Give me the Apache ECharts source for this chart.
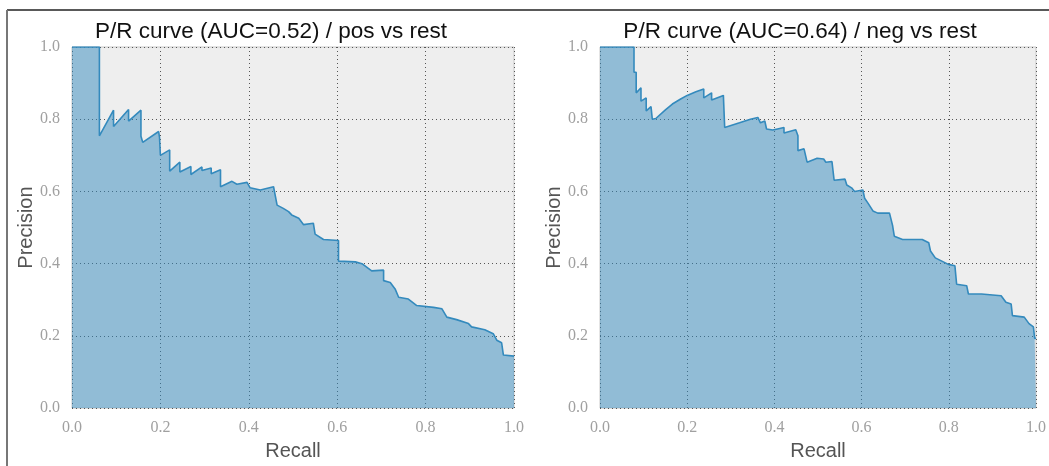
<!DOCTYPE html>
<html>
<head>
<meta charset="utf-8">
<script src="https://cdn.jsdelivr.net/npm/echarts@6/dist/echarts.min.js"></script>
<style>
    html, body { margin: 0; padding: 0; background: #fff; }
    #chart { width: 1049px; height: 466px; }
</style>
</head>
<body>
<div id="chart"></div>
<script>
// values
const posRecall = [0, 0.062, 0.062, 0.094, 0.094, 0.128, 0.128, 0.156, 0.156, 0.16, 0.196, 0.198, 0.2, 0.221, 0.221,
    0.244, 0.244, 0.269, 0.269, 0.294, 0.294, 0.315, 0.315, 0.336, 0.336, 0.362, 0.373, 0.396, 0.403, 0.426,
    0.456, 0.464, 0.478, 0.49, 0.497, 0.513, 0.524, 0.546, 0.55, 0.569, 0.603, 0.603, 0.641, 0.656, 0.678,
    0.705, 0.705, 0.72, 0.731, 0.739, 0.761, 0.78, 0.818, 0.837, 0.848, 0.87, 0.897, 0.904, 0.934, 0.953,
    0.961, 0.972, 0.976, 1.0];
const posPrecision = [1.0, 1.0, 0.754, 0.825, 0.78, 0.827, 0.795, 0.825, 0.753, 0.736, 0.766, 0.75, 0.70, 0.715, 0.656,
    0.681, 0.654, 0.669, 0.647, 0.668, 0.658, 0.665, 0.649, 0.66, 0.613, 0.628, 0.62, 0.625, 0.61, 0.604,
    0.613, 0.562, 0.553, 0.544, 0.535, 0.526, 0.508, 0.512, 0.482, 0.467, 0.464, 0.407, 0.405, 0.40, 0.38,
    0.382, 0.353, 0.348, 0.33, 0.307, 0.302, 0.284, 0.279, 0.275, 0.252, 0.245, 0.234, 0.225, 0.217, 0.206,
    0.188, 0.181, 0.147, 0.144];

const negRecall = [0, 0.078, 0.078, 0.083, 0.083, 0.094, 0.094, 0.106, 0.106, 0.117, 0.12, 0.128, 0.15, 0.166, 0.185,
    0.2, 0.22, 0.238, 0.238, 0.256, 0.256, 0.283, 0.286, 0.32, 0.345, 0.362, 0.368, 0.378, 0.382, 0.396,
    0.407, 0.422, 0.422, 0.449, 0.454, 0.454, 0.468, 0.475, 0.498, 0.513, 0.518, 0.532, 0.537, 0.562, 0.566,
    0.577, 0.584, 0.603, 0.607, 0.615, 0.626, 0.637, 0.664, 0.671, 0.675, 0.694, 0.739, 0.754, 0.758, 0.769,
    0.784, 0.799, 0.814, 0.818, 0.841, 0.845, 0.875, 0.92, 0.931, 0.943, 0.946, 0.973, 0.984, 0.994, 0.997, 1.0];
const negPrecision = [1.0, 1.0, 0.93, 0.93, 0.873, 0.887, 0.85, 0.859, 0.823, 0.835, 0.80, 0.802, 0.826, 0.842, 0.856,
    0.866, 0.876, 0.884, 0.859, 0.873, 0.853, 0.866, 0.777, 0.79, 0.80, 0.805, 0.79, 0.795, 0.773, 0.77,
    0.773, 0.777, 0.762, 0.771, 0.754, 0.713, 0.718, 0.681, 0.692, 0.69, 0.681, 0.683, 0.631, 0.634, 0.618,
    0.61, 0.6, 0.604, 0.581, 0.567, 0.546, 0.54, 0.54, 0.506, 0.476, 0.467, 0.467, 0.458, 0.435, 0.416,
    0.407, 0.398, 0.394, 0.343, 0.339, 0.316, 0.316, 0.311, 0.293, 0.288, 0.256, 0.252, 0.234, 0.225, 0.193, 0.193];

const titles = ['P/R curve (AUC=0.52) / pos vs rest', 'P/R curve (AUC=0.64) / neg vs rest'];
const tickStep = 0.2;

function pairs(xs, ys) {
    return xs.map((x, i) => [x, ys[i]]);
}

const gridLefts = [72, 600];
const plotW = 442;
// titles sit a bit left of the plot centres in the original
const titleCentres = [271, 800];

const chart = echarts.init(document.getElementById('chart'), null, { renderer: 'canvas' });

const tickFont = { fontFamily: 'Liberation Serif', fontSize: 16, color: '#a0a0a0' };
const splitStyle = { show: true, lineStyle: { color: '#555', type: [1, 3], width: 1 } };

function makeAxis(kind, idx) {
    let axis = {
        type: 'value',
        gridIndex: idx,
        min: 0,
        max: 1,
        interval: tickStep,
        axisLine: { show: false },
        axisTick: { show: false },
        splitLine: splitStyle,
        axisLabel: Object.assign({ formatter: v => v.toFixed(1) }, tickFont),
        nameLocation: 'middle',
        nameTextStyle: { fontFamily: 'Liberation Sans', fontSize: 20, color: '#555' }
    };
    if (kind === 'x') {
        axis.name = 'Recall';
        axis.nameGap = 30;
        axis.axisLabel.margin = 12;
    } else {
        axis.name = 'Precision';
        axis.nameGap = 33;
        axis.axisLabel.margin = 12;
    }
    return axis;
}

const option = {
    animation: false,
    backgroundColor: '#fff',
    title: titles.map((t, i) => ({
        text: t,
        left: titleCentres[i],
        top: 20,
        padding: 0,
        textAlign: 'center',
        textStyle: { fontFamily: 'Liberation Sans', fontSize: 22.5, fontWeight: 'normal', color: '#111' }
    })),
    grid: gridLefts.map(l => ({
        left: l,
        top: 47,
        width: plotW,
        height: 365,
        show: true,
        backgroundColor: '#eeeeee',
        borderColor: '#c8c8c8',
        borderWidth: 1,
        containLabel: false
    })),
    xAxis: [makeAxis('x', 0), makeAxis('x', 1)],
    yAxis: [makeAxis('y', 0), makeAxis('y', 1)],
    series: [pairs(posRecall, posPrecision), pairs(negRecall, negPrecision)].map((d, i) => ({
        type: 'line',
        xAxisIndex: i,
        yAxisIndex: i,
        data: d,
        showSymbol: false,
        symbol: 'none',
        lineStyle: { color: '#348ABD', width: 1.6 },
        areaStyle: { color: '#348ABD', opacity: 0.5, origin: 'start' },
        z: 2
    })),
    graphic: [
        { type: 'line', shape: { x1: 7, y1: 10, x2: 1049, y2: 10 }, style: { stroke: '#222', lineWidth: 1.5 } },
        { type: 'line', shape: { x1: 7, y1: 10, x2: 7, y2: 466 }, style: { stroke: '#777', lineWidth: 2 } }
    ]
};

chart.setOption(option);
</script>
</body>
</html>
